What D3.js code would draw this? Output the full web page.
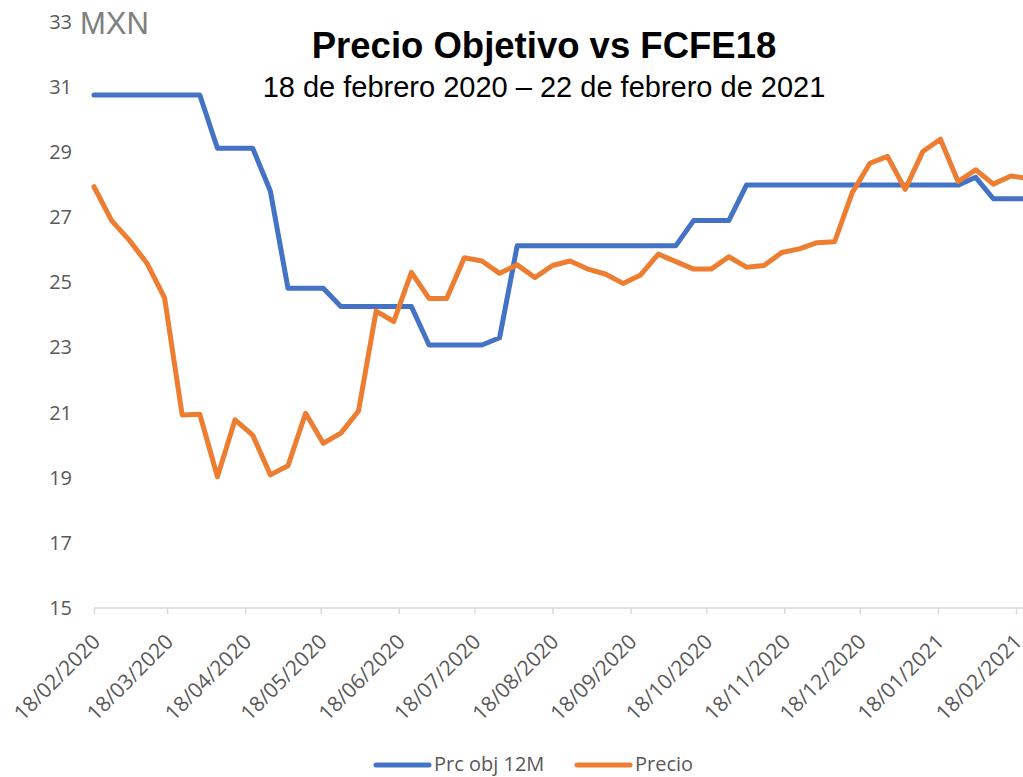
<!DOCTYPE html>
<html>
<head>
<meta charset="utf-8">
<script src="https://cdn.jsdelivr.net/npm/d3@7"></script>
<style>
  body { margin: 0; background: #fff; }
</style>
</head>
<body>
<script>
// weekly dates (dd/mm/yyyy)
const dates = [
  '18/02/2020', '25/02/2020', '03/03/2020', '10/03/2020', '17/03/2020', '24/03/2020', '31/03/2020',
  '07/04/2020', '14/04/2020', '21/04/2020', '28/04/2020', '05/05/2020', '12/05/2020', '19/05/2020',
  '26/05/2020', '02/06/2020', '09/06/2020', '16/06/2020', '23/06/2020', '30/06/2020', '07/07/2020',
  '14/07/2020', '21/07/2020', '28/07/2020', '04/08/2020', '11/08/2020', '18/08/2020', '25/08/2020',
  '01/09/2020', '08/09/2020', '15/09/2020', '22/09/2020', '29/09/2020', '06/10/2020', '13/10/2020',
  '20/10/2020', '27/10/2020', '03/11/2020', '10/11/2020', '17/11/2020', '24/11/2020', '01/12/2020',
  '08/12/2020', '15/12/2020', '22/12/2020', '29/12/2020', '05/01/2021', '12/01/2021', '19/01/2021',
  '26/01/2021', '02/02/2021', '09/02/2021', '16/02/2021', '22/02/2021',
];

const prcObj = [
  30.76, 30.76, 30.76, 30.76, 30.76, 30.76, 30.76,
  29.12, 29.12, 29.12, 27.81, 24.82, 24.82, 24.82,
  24.26, 24.26, 24.26, 24.26, 24.26, 23.08, 23.08,
  23.08, 23.08, 23.30, 26.13, 26.13, 26.13, 26.13,
  26.13, 26.13, 26.13, 26.13, 26.13, 26.13, 26.90,
  26.90, 26.90, 27.99, 27.99, 27.99, 27.99, 27.99,
  27.99, 27.99, 27.99, 27.99, 27.99, 27.99, 27.99,
  27.99, 28.23, 27.57, 27.57, 27.57,
];

const precio = [
  27.94, 26.90, 26.30, 25.59, 24.53, 20.93, 20.95,
  19.03, 20.78, 20.31, 19.09, 19.37, 20.98, 20.06,
  20.37, 21.05, 24.12, 23.80, 25.31, 24.51, 24.51,
  25.76, 25.66, 25.28, 25.54, 25.15, 25.52, 25.66,
  25.41, 25.26, 24.97, 25.23, 25.87, 25.64, 25.41,
  25.41, 25.79, 25.47, 25.52, 25.92, 26.03, 26.22,
  26.25, 27.76, 28.66, 28.87, 27.86, 29.02, 29.40,
  28.10, 28.46, 28.02, 28.27, 28.20,
];

const xTicks = [
  '18/02/2020', '18/03/2020', '18/04/2020', '18/05/2020', '18/06/2020', '18/07/2020', '18/08/2020',
  '18/09/2020', '18/10/2020', '18/11/2020', '18/12/2020', '18/01/2021', '18/02/2021',
];
const yTicks = [15, 17, 19, 21, 23, 25, 27, 29, 31, 33];

const seriesNames = ['Prc obj 12M', 'Precio'];
const colors = ['#4472C4', '#ED7D31'];

const W = 1023, H = 777;
const parse = d3.utcParse('%d/%m/%Y');
const fmt = d3.utcFormat('%d/%m/%Y');

const svg = d3.select('body').append('svg')
  .attr('width', W)
  .attr('height', H)
  .style('font-family', '"Open Sans", sans-serif');

// scales
const x = d3.scaleUtc()
  .domain([parse(xTicks[0]), parse(xTicks[xTicks.length - 1])])
  .range([94, 1016]);
const y = d3.scaleLinear()
  .domain([15, 33])
  .range([608, 22]);

// y labels (no axis line)
const yAxis = svg.append('g')
  .attr('transform', 'translate(72,0)')
  .call(d3.axisLeft(y).tickValues(yTicks).tickSize(0).tickPadding(0));
yAxis.select('.domain').remove();
yAxis.selectAll('text')
  .attr('fill', '#595959')
  .style('font-size', '20px')
  .style('font-family', '"Open Sans", sans-serif');

// x axis
const xAxis = svg.append('g')
  .attr('transform', 'translate(0,608)')
  .call(d3.axisBottom(x)
    .tickValues(xTicks.map(parse))
    .tickFormat(fmt)
    .tickSize(6)
    .tickSizeOuter(0));
xAxis.select('.domain')
  .attr('d', `M${x(parse(xTicks[0]))},0H${W}`)
  .attr('stroke', '#d9d9d9')
  .attr('stroke-width', 1.5);
xAxis.selectAll('.tick line')
  .attr('stroke', '#d9d9d9')
  .attr('stroke-width', 1.5);
xAxis.selectAll('.tick text')
  .attr('x', 0)
  .attr('y', 0)
  .attr('dy', 0)
  .attr('text-anchor', 'end')
  .attr('transform', 'translate(7,35) rotate(-45)')
  .attr('fill', '#595959')
  .style('font-size', '21px')
  .style('font-family', '"Open Sans", sans-serif');

// lines
const rows = dates.map((d, i) => ({ date: parse(d), a: prcObj[i], b: precio[i] }));
const lineA = d3.line().x(d => x(d.date)).y(d => y(d.a));
const lineB = d3.line().x(d => x(d.date)).y(d => y(d.b));

svg.append('path')
  .datum(rows)
  .attr('fill', 'none')
  .attr('stroke', colors[0])
  .attr('stroke-width', 5)
  .attr('stroke-linejoin', 'round')
  .attr('stroke-linecap', 'round')
  .attr('d', lineA);

svg.append('path')
  .datum(rows)
  .attr('fill', 'none')
  .attr('stroke', colors[1])
  .attr('stroke-width', 5)
  .attr('stroke-linejoin', 'round')
  .attr('stroke-linecap', 'round')
  .attr('d', lineB);

// unit label
svg.append('text')
  .attr('x', 80)
  .attr('y', 34)
  .attr('fill', '#808080')
  .style('font-size', '31px')
  .style('font-family', '"Liberation Sans", Arial, sans-serif')
  .text('MXN');

// titles
svg.append('text')
  .attr('x', 544)
  .attr('y', 58)
  .attr('text-anchor', 'middle')
  .attr('fill', '#000')
  .style('font-size', '36.5px')
  .style('font-weight', 'bold')
  .style('font-family', '"Liberation Sans", Arial, sans-serif')
  .text('Precio Objetivo vs FCFE18');

svg.append('text')
  .attr('x', 544)
  .attr('y', 97)
  .attr('text-anchor', 'middle')
  .attr('fill', '#000')
  .style('font-size', '29px')
  .style('font-family', '"Liberation Sans", Arial, sans-serif')
  .text('18 de febrero 2020 – 22 de febrero de 2021');

// legend
const legendX = [376, 577];
const legend = svg.append('g');
seriesNames.forEach((name, i) => {
  legend.append('line')
    .attr('x1', legendX[i])
    .attr('x2', legendX[i] + 53)
    .attr('y1', 765)
    .attr('y2', 765)
    .attr('stroke', colors[i])
    .attr('stroke-width', 5)
    .attr('stroke-linecap', 'round');
  legend.append('text')
    .attr('x', legendX[i] + 58)
    .attr('y', 771)
    .attr('fill', '#595959')
    .style('font-size', '20px')
    .text(name);
});
</script>
</body>
</html>
